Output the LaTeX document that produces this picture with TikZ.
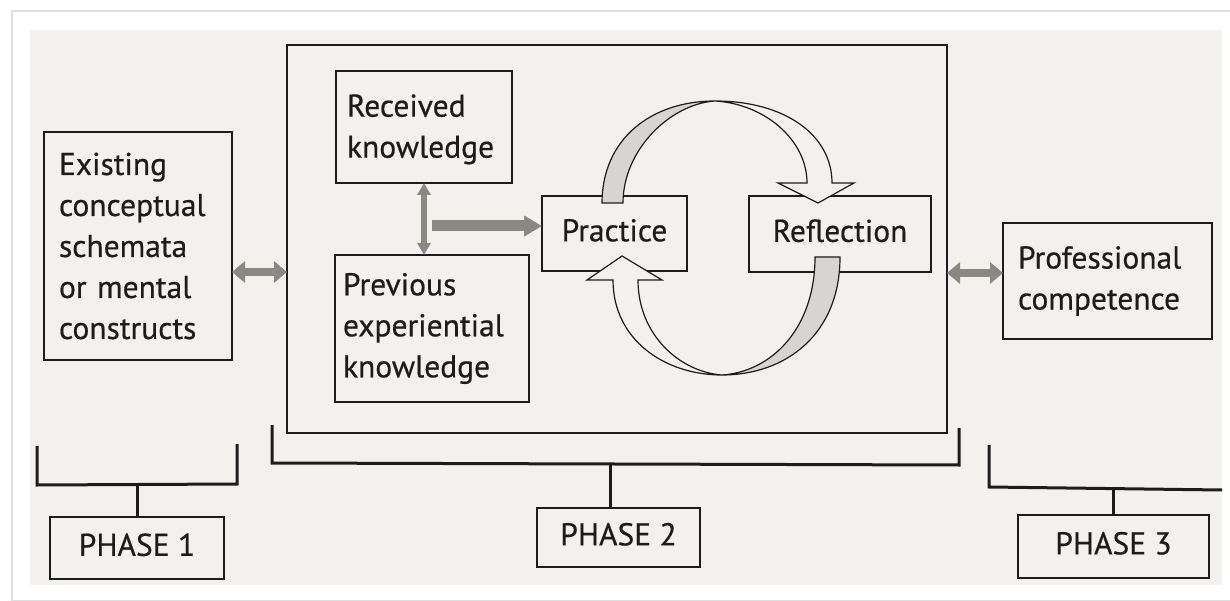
\documentclass[tikz,border=0pt]{standalone}
\usepackage{fontspec}
\setmainfont{PT Sans}[FakeBold=0.5]
\usetikzlibrary{arrows.meta}
\definecolor{page}{RGB}{243,241,237}
\definecolor{ink}{RGB}{28,28,28}
\definecolor{agray}{RGB}{138,136,130}
\definecolor{shade}{RGB}{214,213,209}
\definecolor{framegray}{RGB}{222,222,222}
\tikzset{
  box/.style={draw=ink, line width=1.8pt, inner sep=0pt, outer sep=0pt, text=ink,
    font=\fontsize{31.5pt}{41pt}\selectfont},
  oneline/.style={text height=22pt, text depth=6.3pt},
  bracket/.style={draw=ink, line width=3pt},
  dblarrow/.style={draw=agray, line width=8pt,
    {Triangle[length=13pt,width=21pt]}-{Triangle[length=13pt,width=21pt]}},
  vdblarrow/.style={draw=agray, line width=6pt,
    {Triangle[length=12pt,width=13pt]}-{Triangle[length=12pt,width=13pt]}},
  fwdarrow/.style={draw=agray, line width=11pt, -{Triangle[length=18pt,width=20pt]}},
  ribbonlight/.style={fill=page, draw=ink, line width=1.2pt, line join=miter},
  ribbondark/.style={fill=shade, draw=ink, line width=1.2pt, line join=miter}
}
\begin{document}
\begin{tikzpicture}[x=1pt,y=-1pt]
\useasboundingbox (0,0) rectangle (1230,601);
\fill[white] (0,0) rectangle (1230,601);
\draw[framegray, line width=1.2pt] (12,601) -- (12,11) -- (1230,11);
\draw[framegray, line width=1pt] (12,600) -- (1230,600);
\fill[page] (30,30) rectangle (1222,585);

% boxes
\node[box, minimum width=188pt, minimum height=228pt, text width=158pt, align=left, anchor=north west]
  (exist) at (44,132) {Existing\\conceptual\\schemata\\or mental\\constructs};
\node[box, minimum width=660pt, minimum height=388pt, anchor=north west] (big) at (287,45) {};
\node[box, minimum width=176pt, minimum height=112pt, text width=154pt, align=left, anchor=north west]
  (rec) at (336,71) {\rule{0pt}{27pt}Received\\knowledge};
\node[box, minimum width=194pt, minimum height=147pt, text width=178pt, align=left, anchor=north west]
  (prev) at (335,255) {Previous\\experiential\\knowledge};
\node[box, oneline, minimum width=145pt, minimum height=75pt, anchor=north west] (prac) at (542,196) {Practice};
\node[box, oneline, minimum width=182pt, minimum height=76pt, anchor=north west] (refl) at (749,196) {Reflection};
\node[box, minimum width=209pt, minimum height=116pt, text width=179pt, align=left, anchor=north west]
  (prof) at (1003,223) {Professional\\competence};
\node[box, oneline, minimum width=174pt, minimum height=62pt, anchor=north west] (ph1) at (50,517) {PHASE 1};
\node[box, oneline, minimum width=163pt, minimum height=59pt, anchor=north west] (ph2) at (537,508) {PHASE 2};
\node[box, oneline, minimum width=191pt, minimum height=63pt, anchor=north west] (ph3) at (1018,515) {PHASE 3};

% gray connectors
\coordinate (la) at ([yshift=-26pt]exist.east);
\draw[dblarrow] (la) -- (la -| big.west);
\coordinate (ra) at ([yshift=8pt]prof.west);
\draw[dblarrow] (ra -| big.east) -- (ra);
\draw[vdblarrow] (rec.south) -- (rec.south |- prev.north);
\coordinate (ha) at ([yshift=7.5pt]prac.west);
\draw[fwdarrow] ([xshift=-110pt]ha) -- (ha);

% cycle ribbon: top arrow (Practice -> Reflection)
\path[ribbondark] (602,203) .. controls (602,140) and (650,101) .. (715,101)
  .. controls (670,104) and (623,150) .. (623,203) -- cycle;
\path[ribbonlight] (715,101) .. controls (785,101) and (832,135) .. (832,183)
  -- (854,183) -- (818,203) -- (778,183) -- (807,183)
  .. controls (807,140) and (765,104) .. (715,101) -- cycle;
% bottom arrow (Reflection -> Practice)
\path[ribbondark] (840,257) .. controls (840,335) and (785,375) .. (722,375)
  .. controls (770,372) and (815,330) .. (815,257) -- cycle;
\path[ribbonlight] (722,375) .. controls (665,375) and (613,340) .. (613,280)
  -- (587,280) -- (622,256) -- (662,280) -- (638,280)
  .. controls (638,335) and (680,372) .. (722,375) -- cycle;

% phase brackets
\coordinate (b1a) at (37,446); \coordinate (b1b) at (37,485);
\coordinate (b1c) at (237,484); \coordinate (b1d) at (237,444);
\draw[bracket] (b1a) -- (b1b) -- (b1c) -- (b1d);
\draw[bracket] (ph1.north |- b1b) -- (ph1.north);

\coordinate (b2a) at (272,425); \coordinate (b2b) at (272,463);
\coordinate (b2c) at (959,465); \coordinate (b2d) at (959,428);
\draw[bracket] (b2a) -- (b2b) -- (b2c) -- (b2d);
\coordinate (s2) at (610,464);
\draw[bracket] (s2) -- (s2 |- ph2.north);

\coordinate (b3a) at (989,445); \coordinate (b3b) at (989,487);
\coordinate (b3c) at (1222,490);
\draw[bracket] (b3a) -- (b3b) -- (b3c);
\draw[bracket] (ph3.north |- b3c) -- (ph3.north);
\end{tikzpicture}
\end{document}
